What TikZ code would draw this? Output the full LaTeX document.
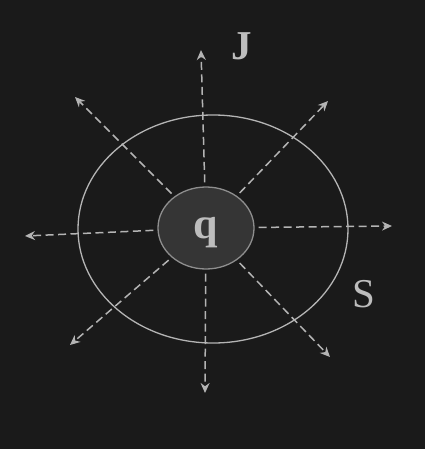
\documentclass[tikz,border=0pt]{standalone}
\usepackage{fontspec}
\setmainfont{Liberation Serif}
\usetikzlibrary{arrows.meta, positioning, shapes.geometric}
\definecolor{fieldBack}{HTML}{1A1A1A}
\definecolor{fieldLine}{HTML}{B4B4B4}
\definecolor{fieldText}{HTML}{BDBDBD}
\definecolor{chargeFill}{HTML}{353535}
\definecolor{chargeRim}{HTML}{8E8E8E}

\begin{document}
\begin{tikzpicture}[
    x=1pt, y=1pt,
    surface/.style={
        ellipse,
        draw=fieldLine,
        line width=1.3pt,
        minimum width=270pt,
        minimum height=228pt
    },
    charge/.style={
        ellipse,
        draw=chargeRim,
        line width=1.3pt,
        fill=chargeFill,
        minimum width=96pt,
        minimum height=82pt,
        text depth=0pt,
        font=\fontsize{44}{44}\selectfont\bfseries,
        text=fieldText
    },
    label/.style={font=\fontsize{41}{41}\selectfont, text=fieldText},
    flux/.style={
        -{Stealth[length=10pt, width=9pt]},
        draw=fieldLine,
        line width=1.5pt,
        dash pattern=on 8pt off 4.5pt,
        shorten <=4pt
    }
]

% Background and frame
\fill[fieldBack] (0,0) rectangle (425,-449);
\useasboundingbox (0,0) rectangle (425,-449);

% Closed surface and enclosed charge
\node[surface] (surf) at (213,-229) {};
\node[charge] (q) at (206,-228) {q};

% Labels
\node[label, font=\fontsize{41}{41}\selectfont\bfseries] (jlabel) at (242,-46) {J};
\node[label] (slabel) at (364,-294) {S};

% Free ends of the flux lines
\coordinate (up)        at (201,-50);
\coordinate (upleft)    at (75,-97);
\coordinate (upright)   at (328,-101);
\coordinate (right)     at (392,-226);
\coordinate (left)      at (25,-236);
\coordinate (downleft)  at (70,-345);
\coordinate (down)      at (205,-393);
\coordinate (downright) at (330,-357);

% Flux lines leaving the charge
\foreach \e in {up, upleft, upright, right, left, downleft, down, downright} {
    \draw[flux] (q) -- (\e);
}

\end{tikzpicture}
\end{document}
